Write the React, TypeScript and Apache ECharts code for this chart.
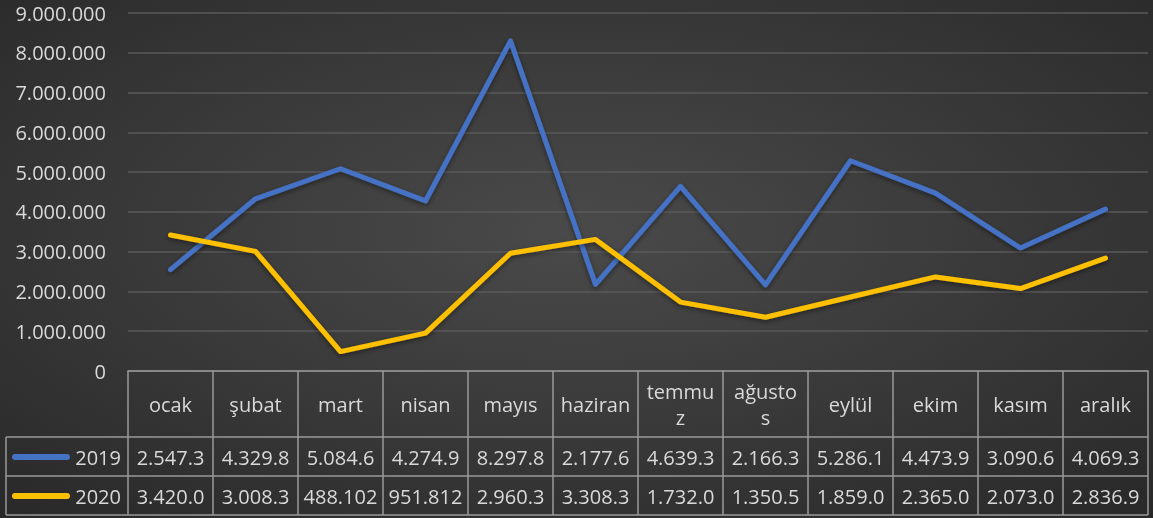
import React, { useEffect, useRef } from "react";
import * as echarts from "echarts";

const months = ["ocak", "şubat", "mart", "nisan", "mayıs", "haziran", "temmuz", "ağustos", "eylül", "ekim", "kasım", "aralık"];
const values2019 = [2547300, 4329800, 5084600, 4274900, 8297800, 2177600, 4639300, 2166300, 5286100, 4473900, 3090600, 4069300];
const values2020 = [3420000, 3008300, 488102, 951812, 2960300, 3308300, 1732000, 1350500, 1859000, 2365000, 2073000, 2836900];
const seriesNames = ["2019", "2020"];
const colors = ["#4472C4", "#FFC000"];

const fmt = (v: number) => Math.round(v).toString().replace(/\B(?=(\d{3})+(?!\d))/g, ".");
// Excel data table truncates the cell text to its column width
const cell = (v: number) => fmt(v).slice(0, 7);

const FONT = "'Open Sans', sans-serif";
const TXT = "#d9d9d9";
const LINE = "#9a9a9a";

export default function App() {
  const ref = useRef<HTMLDivElement>(null);
  useEffect(() => {
    const chart = echarts.init(ref.current!, null, { renderer: "svg" });
    const gridLeft = 128, gridRight = 5, gridTop = 13, gridBottom = 147;
    const axisY = 518 - gridBottom; // 371
    const row1 = 437, row2 = 476, row3 = 515;
    const baseLabel = { fontFamily: FONT, fontSize: 20, color: TXT };
    chart.setOption({
      animation: false,
      backgroundColor: {
        type: "radial", x: 0.5, y: 0.45, r: 0.8,
        colorStops: [{ offset: 0, color: "#4a4a4a" }, { offset: 1, color: "#262626" }],
      },
      grid: { left: gridLeft, right: gridRight, top: gridTop, bottom: gridBottom, containLabel: false },
      xAxis: [
        {
          type: "category", data: months, boundaryGap: true,
          axisLine: { lineStyle: { color: LINE, width: 1.5 } },
          axisTick: { show: true, interval: 0, length: row3 - axisY, lineStyle: { color: LINE, width: 1.5 } },
          axisLabel: { ...baseLabel, interval: 0, margin: 33, verticalAlign: "middle", width: 74, overflow: "break", lineHeight: 26, align: "center" },
        },
        {
          type: "category", data: values2019.map(cell), boundaryGap: true, position: "bottom",
          axisLine: { show: false }, axisTick: { show: false },
          axisLabel: { ...baseLabel, interval: 0, margin: 86, verticalAlign: "middle" },
        },
        {
          type: "category", data: values2020.map(cell), boundaryGap: true, position: "bottom",
          axisLine: { show: false }, axisTick: { show: false },
          axisLabel: { ...baseLabel, interval: 0, margin: 125, verticalAlign: "middle" },
        },
      ],
      yAxis: {
        type: "value", min: 0, max: 9000000, interval: 1000000,
        axisLine: { show: false }, axisTick: { show: false },
        axisLabel: { ...baseLabel, margin: 22, formatter: (v: number) => fmt(v) },
        splitLine: { lineStyle: { color: "#5a5a5a", width: 1.5 } },
      },
      series: [values2019, values2020].map((d, i) => ({
        name: seriesNames[i], type: "line", data: d, xAxisIndex: 0,
        symbol: "none", color: colors[i],
        lineStyle: { width: 5, cap: "round", join: "round", shadowColor: "rgba(0,0,0,0.45)", shadowBlur: 5, shadowOffsetY: 2 },
      })),
      graphic: [
        { type: "line", shape: { x1: 6, y1: row1, x2: 1148, y2: row1 }, style: { stroke: LINE, lineWidth: 1.5 } },
        { type: "line", shape: { x1: 6, y1: row2, x2: 1148, y2: row2 }, style: { stroke: LINE, lineWidth: 1.5 } },
        { type: "line", shape: { x1: 6, y1: row3, x2: 1148, y2: row3 }, style: { stroke: LINE, lineWidth: 1.5 } },
        { type: "line", shape: { x1: 6, y1: row1, x2: 6, y2: row3 }, style: { stroke: LINE, lineWidth: 1.5 } },
        ...seriesNames.flatMap((n, i) => {
          const cy = i === 0 ? 457 : 496;
          return [
            { type: "line", shape: { x1: 15, y1: cy, x2: 67, y2: cy }, style: { stroke: colors[i], lineWidth: 6, lineCap: "round" } },
            { type: "text", x: 121, y: cy, style: { text: n, fill: TXT, font: `20px ${FONT}`, align: "right", verticalAlign: "middle" } },
          ];
        }),
      ],
    });
    return () => chart.dispose();
  }, []);
  return <div ref={ref} style={{ position: "fixed", left: 0, top: 0, width: 1153, height: 518 }} />;
}
